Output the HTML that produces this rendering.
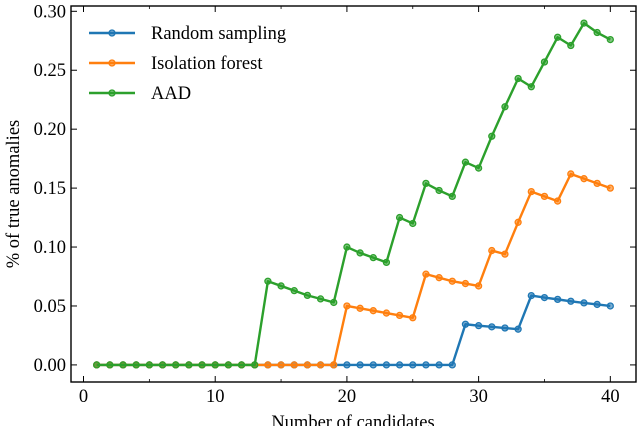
<!DOCTYPE html>
<html><head><meta charset="utf-8"><style>
body{margin:0;background:#fff}
svg text{font-family:"Liberation Serif",serif;fill:#000}
</style></head><body>
<svg id="chart" width="638" height="426" xmlns="http://www.w3.org/2000/svg">
<g id="plot"></g>
</svg>
<script>
const candidates=[];for(let i=1;i<=40;i++)candidates.push(i);
const randomSampling=[0,0,0,0,0,0,0,0,0,0,0,0,0,0,0,0,0,0,0,0,0,0,0,0,0,0,0,0,0.0345,0.0333,0.0323,0.0313,0.0303,0.0588,0.0571,0.0556,0.054,0.0526,0.0513,0.05];
const isolationForest=[0,0,0,0,0,0,0,0,0,0,0,0,0,0,0,0,0,0,0,0.05,0.048,0.046,0.044,0.042,0.040,0.077,0.074,0.071,0.069,0.067,0.097,0.094,0.121,0.147,0.143,0.139,0.162,0.158,0.154,0.150];
const aad=[0,0,0,0,0,0,0,0,0,0,0,0,0,0.071,0.067,0.063,0.059,0.056,0.053,0.1,0.095,0.091,0.087,0.125,0.12,0.154,0.148,0.143,0.172,0.167,0.194,0.219,0.243,0.236,0.257,0.278,0.271,0.29,0.282,0.276];
const xTicks=[0,10,20,30,40];
const xMinor=[5,15,25,35];
const yTicks=[0,0.05,0.10,0.15,0.20,0.25,0.30];
const yTickLabels=["0.00","0.05","0.10","0.15","0.20","0.25","0.30"];
const seriesNames=["Random sampling","Isolation forest","AAD"];
const colors=["#1f77b4","#ff7f0e","#2ca02c"];

const L=71,R=636,T=6,B=382;
const xMin=-0.95,xMax=41.95,yMin=-0.0145,yMax=0.3045;
const X=v=>L+(v-xMin)/(xMax-xMin)*(R-L);
const Y=v=>B-(v-yMin)/(yMax-yMin)*(B-T);
const ns="http://www.w3.org/2000/svg";
const g=document.getElementById('plot');
function mk(t,a,p){const e=document.createElementNS(ns,t);for(const k in a)e.setAttribute(k,a[k]);(p||g).appendChild(e);return e;}

xTicks.forEach((t,i)=>{
  const a=mk('line',{x1:X(t),x2:X(t),y1:B,y2:B-6,stroke:'#000','stroke-width':1});
  
  
  mk('line',{x1:X(t),x2:X(t),y1:T,y2:T+6,stroke:'#000','stroke-width':1});
  const tx=mk('text',{x:X(t),y:B+20,'text-anchor':'middle','font-size':18.5});
  tx.textContent=t;
  
  
});
xMinor.forEach(t=>{
  mk('line',{x1:X(t),x2:X(t),y1:B,y2:B-3,stroke:'#000','stroke-width':0.8});
  mk('line',{x1:X(t),x2:X(t),y1:T,y2:T+3,stroke:'#000','stroke-width':0.8});
});
yTicks.forEach((t,i)=>{
  const a=mk('line',{x1:L,x2:L+6,y1:Y(t),y2:Y(t),stroke:'#000','stroke-width':1});
  
  
  mk('line',{x1:R,x2:R-6,y1:Y(t),y2:Y(t),stroke:'#000','stroke-width':1});
  const tx=mk('text',{x:L-5,y:Y(t)+6,'text-anchor':'end','font-size':18.5});
  tx.textContent=yTickLabels[i];
  
  
});

[randomSampling,isolationForest,aad].forEach((s,k)=>{
  const grp=mk('g',{});
  
  
  const pts=s.map((v,i)=>X(candidates[i])+','+Y(v)).join(' ');
  mk('polyline',{points:pts,fill:'none',stroke:colors[k],'stroke-width':2.4,'stroke-linejoin':'round'},grp);
  s.forEach((v,i)=>{
    const c=mk('circle',{cx:X(candidates[i]),cy:Y(v),r:3,fill:colors[k],'fill-opacity':0.6,stroke:colors[k],'stroke-width':1.3},grp);
    
    
  });
});

const fr=mk('rect',{x:L,y:T,width:R-L,height:B-T,fill:'none',stroke:'#000','stroke-width':1.4});



seriesNames.forEach((n,k)=>{
  const ly=33+k*30;
  const lg=mk('g',{});
  
  
  mk('line',{x1:89,x2:135,y1:ly,y2:ly,stroke:colors[k],'stroke-width':2.4},lg);
  mk('circle',{cx:112,cy:ly,r:3,fill:colors[k],'fill-opacity':0.6,stroke:colors[k],'stroke-width':1.3},lg);
  const t=mk('text',{x:151,y:ly+6,'font-size':18.5},lg);
  t.textContent=n;
});

const xt=mk('text',{x:353,y:428,'text-anchor':'middle','font-size':18.5});
xt.textContent='Number of candidates';


const yt=mk('text',{x:0,y:0,'text-anchor':'middle','font-size':18.5,transform:'translate(19,194) rotate(-90)'});
yt.textContent='% of true anomalies';


</script>
</body></html>
